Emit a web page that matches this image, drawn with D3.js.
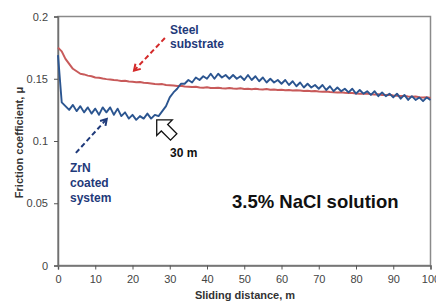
<!DOCTYPE html>
<html lang="en">
<meta charset="utf-8">
<head>
  <title>Friction coefficient vs sliding distance</title>
  <script src="https://d3js.org/d3.v7.min.js"></script>
  <style>
    body { margin: 0; background: #fff; }
    svg { display: block; font-family: "Liberation Sans", Arial, sans-serif; }
  </style>
</head>
<body>
<script>
var width = 436,
    height = 304;
var margin = {top: 16.5, right: 5, bottom: 38.5, left: 58};

// sliding distance, m
var distance = [0,1,2,3,4,5,6,7,8,9,10,11,12,13,14,15,16,17,18,19,20,
  21,22,23,24,25,26,27,28,29,30,31,32,33,34,35,36,37,38,39,40,
  41,42,43,44,45,46,47,48,49,50,51,52,53,54,55,56,57,58,59,60,
  61,62,63,64,65,66,67,68,69,70,71,72,73,74,75,76,77,78,79,80,
  81,82,83,84,85,86,87,88,89,90,91,92,93,94,95,96,97,98,99,100];

// steel substrate
var steel = [0.175,0.172,0.166,0.162,0.158,0.156,0.154,0.1535,0.1525,0.152,0.151,
  0.1508,0.1502,0.1497,0.1494,0.149,0.1487,0.1482,0.1484,0.1478,0.1476,
  0.1472,0.1474,0.1468,0.1465,0.1462,0.1458,0.1455,0.1457,0.145,0.1448,
  0.1446,0.1442,0.1444,0.1438,0.1436,0.1433,0.1435,0.1429,0.1428,0.1431,
  0.1426,0.1425,0.1428,0.1424,0.1422,0.1426,0.1421,0.142,0.1423,0.1418,
  0.1419,0.1416,0.1419,0.1415,0.1414,0.1417,0.1412,0.1413,0.141,0.1412,
  0.1408,0.1409,0.1406,0.1408,0.1405,0.1402,0.1403,0.14,0.1402,0.1398,
  0.1396,0.1397,0.1393,0.1392,0.1390,0.1391,0.1387,0.1385,0.1386,0.1382,
  0.138,0.1379,0.1381,0.1376,0.1374,0.1375,0.137,0.1369,0.1371,0.1365,
  0.1363,0.1361,0.1362,0.1358,0.1356,0.1357,0.1352,0.135,0.1351,0.1345];

// ZrN coated system
var zrn = [0.169,0.131,0.128,0.125,0.129,0.124,0.128,0.123,0.127,0.122,0.126,
  0.121,0.127,0.123,0.127,0.121,0.126,0.120,0.123,0.118,0.121,
  0.117,0.120,0.118,0.122,0.118,0.121,0.120,0.124,0.128,0.135,
  0.139,0.142,0.146,0.146,0.149,0.147,0.151,0.149,0.152,0.150,
  0.154,0.150,0.154,0.151,0.153,0.150,0.153,0.150,0.152,0.149,
  0.153,0.149,0.152,0.148,0.151,0.147,0.150,0.147,0.149,0.146,
  0.149,0.145,0.148,0.144,0.147,0.143,0.146,0.143,0.145,0.142,
  0.145,0.141,0.144,0.140,0.143,0.140,0.142,0.139,0.142,0.138,
  0.141,0.138,0.140,0.137,0.140,0.136,0.139,0.136,0.138,0.135,
  0.138,0.134,0.137,0.133,0.136,0.133,0.135,0.132,0.135,0.133];

var xTicks = [0,10,20,30,40,50,60,70,80,90,100];
var yTicks = [0,0.05,0.1,0.15,0.2];

var svg = d3.select("body").append("svg")
    .attr("width", width)
    .attr("height", height);

var x = d3.scaleLinear().domain([0, 100]).range([margin.left, width - margin.right - 0.5]);
var y = d3.scaleLinear().domain([0, 0.2]).range([height - margin.bottom, margin.top]);

// frame
svg.append("rect")
    .attr("x", x(0)).attr("y", y(0.2))
    .attr("width", x(100) - x(0)).attr("height", y(0) - y(0.2))
    .style("fill", "none").style("stroke", "#8a8a8a").style("stroke-width", 1.5);

var xAxis = svg.append("g")
    .attr("transform", "translate(0," + y(0) + ")")
    .call(d3.axisBottom(x).tickValues(xTicks).tickSize(4).tickPadding(6).tickFormat(d3.format("d")));
var yAxis = svg.append("g")
    .attr("transform", "translate(" + x(0) + ",0)")
    .call(d3.axisLeft(y).tickValues(yTicks).tickSize(4).tickPadding(6).tickFormat(function(d) { return d === 0 ? "0" : String(d); }));

[xAxis, yAxis].forEach(function(a) {
  a.select(".domain").style("stroke", "#707070").style("stroke-width", 1.5);
  a.selectAll(".tick line").style("stroke", "#555").style("stroke-width", 1);
  a.selectAll(".tick text").style("font-size", "11px").style("fill", "#444")
      .style("font-family", "'Liberation Sans', Arial, sans-serif");
});

var line = d3.line()
    .x(function(d) { return x(d[0]); })
    .y(function(d) { return y(d[1]); });

svg.append("path")
    .datum(d3.zip(distance, steel))
    .attr("d", line)
    .style("fill", "none").style("stroke", "#c85a5a").style("stroke-width", 2)
    .style("stroke-linejoin", "round");

svg.append("path")
    .datum(d3.zip(distance, zrn))
    .attr("d", line)
    .style("fill", "none").style("stroke", "#2b5590").style("stroke-width", 1.9)
    .style("stroke-linejoin", "round");

// dashed arrows
function dashedArrow(x1, y1, x2, y2, color) {
  var px1 = x(x1), py1 = y(y1), px2 = x(x2), py2 = y(y2);
  svg.append("line")
      .attr("x1", px1).attr("y1", py1).attr("x2", px2).attr("y2", py2)
      .style("stroke", color).style("stroke-width", 2)
      .style("stroke-dasharray", "5,3");
  var ang = Math.atan2(py2 - py1, px2 - px1);
  var hl = 7, spread = 0.55;
  var pts = [
    [px2 - hl * Math.cos(ang - spread), py2 - hl * Math.sin(ang - spread)],
    [px2, py2],
    [px2 - hl * Math.cos(ang + spread), py2 - hl * Math.sin(ang + spread)]
  ];
  svg.append("polyline")
      .attr("points", pts.map(function(p) { return p.join(","); }).join(" "))
      .style("fill", "none").style("stroke", color).style("stroke-width", 2);
}
dashedArrow(28.7, 0.1827, 20.4, 0.1565, "#d42a2a");
dashedArrow(4.8, 0.0904, 13.1, 0.1177, "#1f3a7a");

// hollow block arrow pointing at 30 m
svg.append("path")
    .attr("transform", "translate(" + x(26.5) + "," + y(0.1169) + ") rotate(45)")
    .attr("d", "M0,0 L11,-11 L11,-4.5 L24,-4.5 L24,4.5 L11,4.5 L11,11 Z")
    .style("fill", "#fff").style("stroke", "#111").style("stroke-width", 1.3);

// annotations
function label(txt, px, py, size, color, anchor) {
  svg.append("text")
      .attr("x", px).attr("y", py)
      .attr("text-anchor", anchor || "start")
      .style("font-size", size + "px").style("font-weight", "bold")
      .style("fill", color)
      .text(txt);
}
label("Steel", 170, 33.5, 12, "#1f3a7a");
label("substrate", 170, 47.5, 12, "#1f3a7a");
label("ZrN", 70, 172, 12, "#1f3a7a");
label("coated", 70, 187, 12, "#1f3a7a");
label("system", 70, 201.5, 12, "#1f3a7a");
label("30 m", 170, 157, 12, "#111");
label("3.5% NaCl solution", 232, 208, 18.5, "#111");

// axis titles
label("Sliding distance, m", 245, 299, 11, "#333", "middle");
svg.append("text")
    .attr("transform", "translate(23," + 142.5 + ") rotate(-90)")
    .attr("text-anchor", "middle")
    .style("font-size", "11px").style("font-weight", "bold").style("fill", "#333")
    .text("Friction coefficient, \u03bc");
</script>
</body>
</html>
